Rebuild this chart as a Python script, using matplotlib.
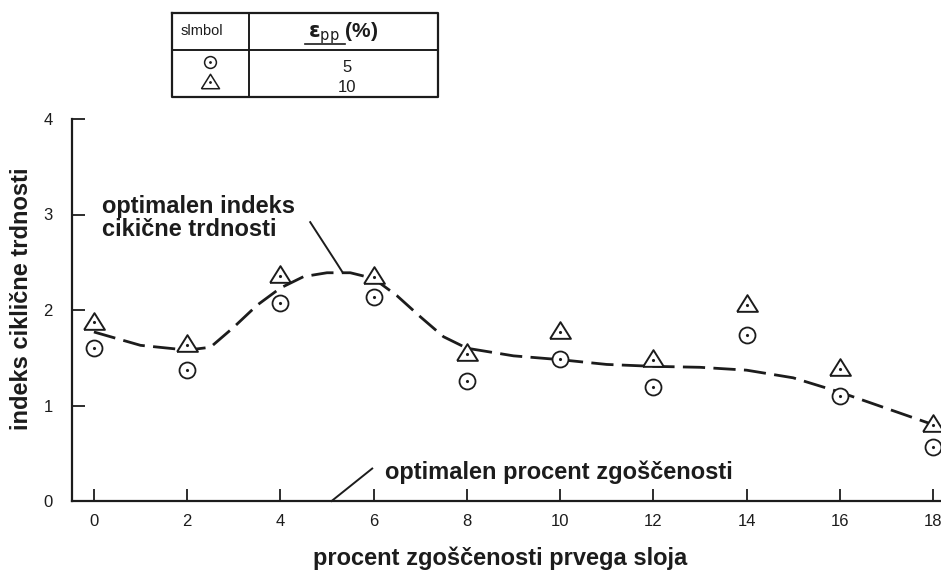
import numpy as np
import matplotlib
matplotlib.use('Agg')
import matplotlib.pyplot as plt

plt.rcParams['font.family'] = ['Liberation Sans', 'DejaVu Sans']

# podatki odčitani s slike
x_tocke = [0, 2, 4, 6, 8, 10, 12, 14, 16, 18]
krogi_5 = [1.60, 1.37, 2.07, 2.14, 1.26, 1.49, 1.19, 1.74, 1.10, 0.57]
trikotniki_10 = [1.89, 1.65, 2.38, 2.37, 1.56, 1.79, 1.50, 2.07, 1.40, 0.82]

# črtkana krivulja (odčitane točke)
krivulja_x = [0, 1, 2, 2.5, 3, 3.5, 4, 4.5, 5, 5.5, 6, 6.5, 7, 7.5, 8, 9, 10, 11, 12, 13, 14, 15, 16, 17, 18]
krivulja_y = [1.77, 1.63, 1.58, 1.61, 1.82, 2.05, 2.23, 2.35, 2.39, 2.39, 2.33, 2.15, 1.93, 1.72, 1.60, 1.52, 1.48, 1.43, 1.41, 1.40, 1.37, 1.29, 1.14, 0.97, 0.80]

x_ticks = [0, 2, 4, 6, 8, 10, 12, 14, 16, 18]
y_ticks = [0, 1, 2, 3, 4]

# puščici opomb
puscica_indeks = ([4.64, 5.21, 5.34], [2.92, 2.49, 2.39])
puscica_procent = ([5.1, 5.97], [0.0, 0.34])

barva = '#1c1c1c'
# trikotnik je malo širši kot visok
trikotnik = [(-1, -0.8), (1, -0.8), (0, 0.8), (-1, -0.8)]

fig = plt.figure(figsize=(9.41, 5.72), dpi=100)
ax = fig.add_axes([72 / 941, 71 / 572, 868 / 941, 382 / 572])

ax.plot(krivulja_x, krivulja_y, color=barva, lw=2, dashes=(8, 3), zorder=2)

ax.plot(x_tocke, krogi_5, 'o', ms=11.5, mfc='white', mec=barva, mew=1.3, zorder=3)
ax.plot(x_tocke, krogi_5, '.', ms=2.5, color=barva, zorder=4)
ax.plot(x_tocke, trikotniki_10, marker=trikotnik, ls='none', ms=15, mfc='white',
        mec=barva, mew=1.4, zorder=3)
ax.plot(x_tocke, np.array(trikotniki_10) - 0.02, '.', ms=2.5, color=barva, zorder=4)

ax.set_xlim(-0.47, 18.15)
ax.set_ylim(0, 4)
ax.set_xticks(x_ticks)
ax.set_yticks(y_ticks)
ax.tick_params(direction='in', length=9, width=1.3, color=barva, labelsize=12,
               labelcolor=barva)
ax.tick_params(axis='x', pad=9)
ax.tick_params(axis='y', pad=14)
for s in ['top', 'right']:
    ax.spines[s].set_visible(False)
for s in ['left', 'bottom']:
    ax.spines[s].set_linewidth(1.6)
    ax.spines[s].set_color(barva)

ax.set_xlabel('procent zgoščenosti prvega sloja', fontsize=17, fontweight='bold',
              color=barva)
ax.set_ylabel('indeks ciklične trdnosti', fontsize=17, fontweight='bold',
              color=barva)
ax.xaxis.set_label_coords(0.493, -0.118)
ax.yaxis.set_label_coords(-0.045, 0.53)

# opombe
ax.text(0.17, 2.96, 'optimalen indeks\ncikične trdnosti', fontsize=17,
        fontweight='bold', color=barva, ha='left', va='center', linespacing=1.0)
ax.plot(*puscica_indeks, color=barva, lw=1.4, zorder=2)
ax.text(6.24, 0.30, 'optimalen procent zgoščenosti', fontsize=17,
        fontweight='bold', color=barva, ha='left', va='center')
ax.plot(*puscica_procent, color=barva, lw=1.4, clip_on=False)

# tabela simbolov zgoraj
tab = fig.add_axes([172 / 941, 1 - 97 / 572, 266 / 941, 84 / 572])
tab.set_xlim(172, 438)
tab.set_ylim(97, 13)
tab.axis('off')
tab.plot([172, 438, 438, 172, 172], [13, 13, 97, 97, 13], color=barva, lw=1.6,
         clip_on=False)
tab.plot([249, 249], [13, 97], color=barva, lw=1.4)
tab.plot([172, 438], [50, 50], color=barva, lw=1.4)
tab.text(202, 31, 'slmbol', fontsize=10.5, color=barva, ha='center', va='center')
tab.text(343, 33, r'$\mathbf{\varepsilon}_{\mathrm{pp}}$ (%)', fontsize=15,
         fontweight='bold', color=barva, ha='center', va='center')
tab.plot([305, 345], [44, 44], color=barva, lw=1.2)
tab.plot(210, 62, 'o', ms=8.5, mfc='white', mec=barva, mew=1.1)
tab.plot(210, 62, '.', ms=2, color=barva)
tab.plot(210, 81, marker=trikotnik, ms=13, mfc='white', mec=barva, mew=1.1)
tab.plot(210, 82, '.', ms=2, color=barva)
tab.text(347, 68, '5', fontsize=12, color=barva, ha='center', va='center')
tab.text(347, 87, '10', fontsize=12, color=barva, ha='center', va='center')

fig.savefig('out.png', dpi=100)
